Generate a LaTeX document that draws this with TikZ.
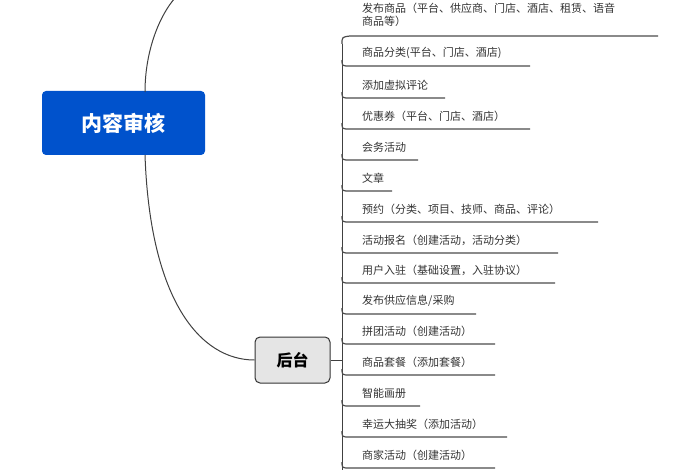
\documentclass[tikz,border=0pt]{standalone}
\usepackage{fontspec}
\setmainfont{Noto Sans CJK SC}
\begin{document}
\begin{tikzpicture}[x=1pt,y=-1pt,
 item/.style={anchor=west,font=\fontsize{11}{13}\selectfont,text=black!80,inner sep=0pt},
 uline/.style={draw=black!70,line width=1.2pt},
 conn/.style={draw=black!75,line width=1pt}]
\useasboundingbox (0,0) rectangle (700,470);
\node[fill=blue!60!cyan!80!black,rounded corners=4pt,minimum width=163pt,minimum height=64pt,text=white,font=\fontsize{21}{24}\selectfont\bfseries] (root) at (123.5,123) {内容审核};
\node[fill=black!10,draw=black!80,line width=1pt,rounded corners=5pt,minimum width=75pt,minimum height=46pt,font=\fontsize{16}{18}\selectfont\bfseries] (ht) at (292.5,360) {后台};
\coordinate (t0) at (175,-2);
\draw[conn] (145,92) .. controls (145,50) and (160,15) .. (t0);
\draw[conn] (145,155) .. controls (150,300) and (200,360) .. (ht.west);
\coordinate (tr) at (342,360);
\draw[conn] (ht.east) -- (tr);
\draw[conn] (342,44) -- (342,470);
\node[item,align=left] (i0) at (362,15) {发布商品（平台、供应商、门店、酒店、租赁、语音\\商品等）};
\draw[uline] (342,44) .. controls (342,37) .. (350,36) -- (658,36);
\foreach \t/\y/\e in {{商品分类(平台、门店、酒店)}/53/530, {添加虚拟评论}/85/445, {优惠券（平台、门店、酒店）}/116/530, {会务活动}/147/418, {文章}/178/392, {预约（分类、项目、技师、商品、评论）}/209/598, {活动报名（创建活动，活动分类）}/240/558, {用户入驻（基础设置，入驻协议）}/270/555, {发布供应信息/采购}/301/476, {拼团活动（创建活动）}/331/495, {商品套餐（添加套餐）}/362/495, {智能画册}/393/420, {幸运大抽奖（添加活动）}/424/507, {商家活动（创建活动）}/455/495}{
  \node[item] (n\y) at (362,\y) {\t};
  \draw[uline] (342,\y+7) .. controls (342,\y+13) .. (350,\y+13) -- (\e,\y+13);
}
\end{tikzpicture}
\end{document}
